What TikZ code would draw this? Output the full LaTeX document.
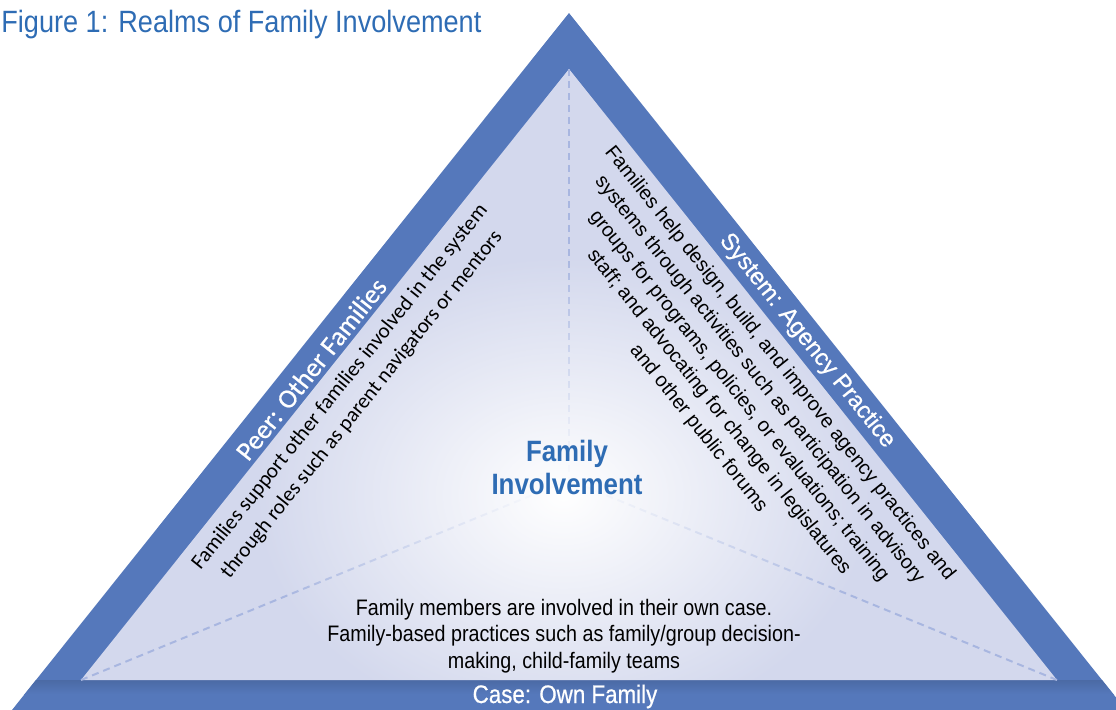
\documentclass[tikz,border=0pt]{standalone}
\usepackage{fontspec}
\setmainfont{Liberation Sans}
\newfontfamily\gothic[FakeStretch=0.88]{Liberation Sans}
\newfontfamily\gothicmed[FakeStretch=0.88,FakeBold=0.6]{Liberation Sans}
\newfontfamily\sansmed[FakeBold=0.6]{Liberation Sans}
\newfontfamily\calib{Carlito}
\newfontfamily\calibmed[FakeBold=0.6]{Carlito}
\usetikzlibrary{fadings}
\definecolor{bandblue}{RGB}{85,120,187}
\definecolor{titleblue}{RGB}{46,108,180}
\definecolor{lav}{RGB}{211,216,237}
\definecolor{dashblue}{RGB}{168,182,224}
\tikzfading[name=glow,inner color=transparent!0,outer color=transparent!100]

\begin{document}
\begin{tikzpicture}[x=0.5pt,y=-0.5pt,
  band/.style={text=white,inner sep=0pt},
  realm/.style={align=center,inner sep=0pt},
  spoke/.style={dashblue,line width=1pt,dash pattern=on 3.5pt off 2.5pt}]
\useasboundingbox (0,0) rectangle (1116,709);
\clip (0,0) rectangle (1116,709);
% outer frame and inner field
\fill[bandblue] (569,13) -- (1130,715) -- (8,715) -- cycle;
\begin{scope}
  \clip (569,13) -- (1130,715) -- (8,715) -- cycle;
  \shade[top color=bandblue!88!black,bottom color=bandblue] (0,680) rectangle (1116,694);
\end{scope}
\coordinate (top) at (569,69);
\coordinate (bl) at (81,680);
\coordinate (br) at (1057,680);
\coordinate (mid) at (569,480);
\fill[lav] (top) -- (br) -- (bl) -- cycle;
\draw[spoke] (top) -- (mid);
\draw[spoke] (bl) -- (mid);
\draw[spoke] (br) -- (mid);
\begin{scope}
  \clip (top) -- (br) -- (bl) -- cycle;
  \fill[white,path fading=glow] (563,495) ellipse (310 and 240);
\end{scope}

\node[anchor=base west,inner sep=0pt,text=titleblue,font=\gothic\fontsize{15.4}{18}\selectfont]
  (title) at (1,32) {Figure 1: Realms of Family Involvement};

\node[band,rotate=51.4,font=\calibmed\fontsize{13.5}{15}\selectfont] (peer) at (311,369) {Peer: Other Families};
\node[band,rotate=-51.4,font=\sansmed\fontsize{11.9}{14}\selectfont] (system) at (807,341) {System: Agency Practice};
\node[band,anchor=base,font=\gothicmed\fontsize{12.7}{15}\selectfont] (case) at (565,703) {Case: Own Family};

\node[realm,rotate=51.4,font=\calib\fontsize{10.6}{14}\selectfont] (peertext) at (351,396)
  {Families support other families involved in the system\\through roles such as parent navigators or mentors};
\node[realm,rotate=-51.4,font=\fontsize{9.95}{13}\selectfont] (systemtext) at (739,396)
  {Families help design, build, and improve agency practices and\\systems through activities such as participation in advisory\\groups for programs, policies, or evaluations; training\\staff; and advocating for change in legislatures\\and other public forums};
\node[realm,font=\gothic\fontsize{11.2}{13.25}\selectfont] (casetext) at (564,636)
  {Family members are involved in their own case.\\Family-based practices such as family/group decision-\\making, child-family teams};
\node[realm,text=titleblue,font=\gothic\bfseries\fontsize{14.7}{16.5}\selectfont] (centre) at (567,467)
  {Family\\Involvement};
\end{tikzpicture}
\end{document}
